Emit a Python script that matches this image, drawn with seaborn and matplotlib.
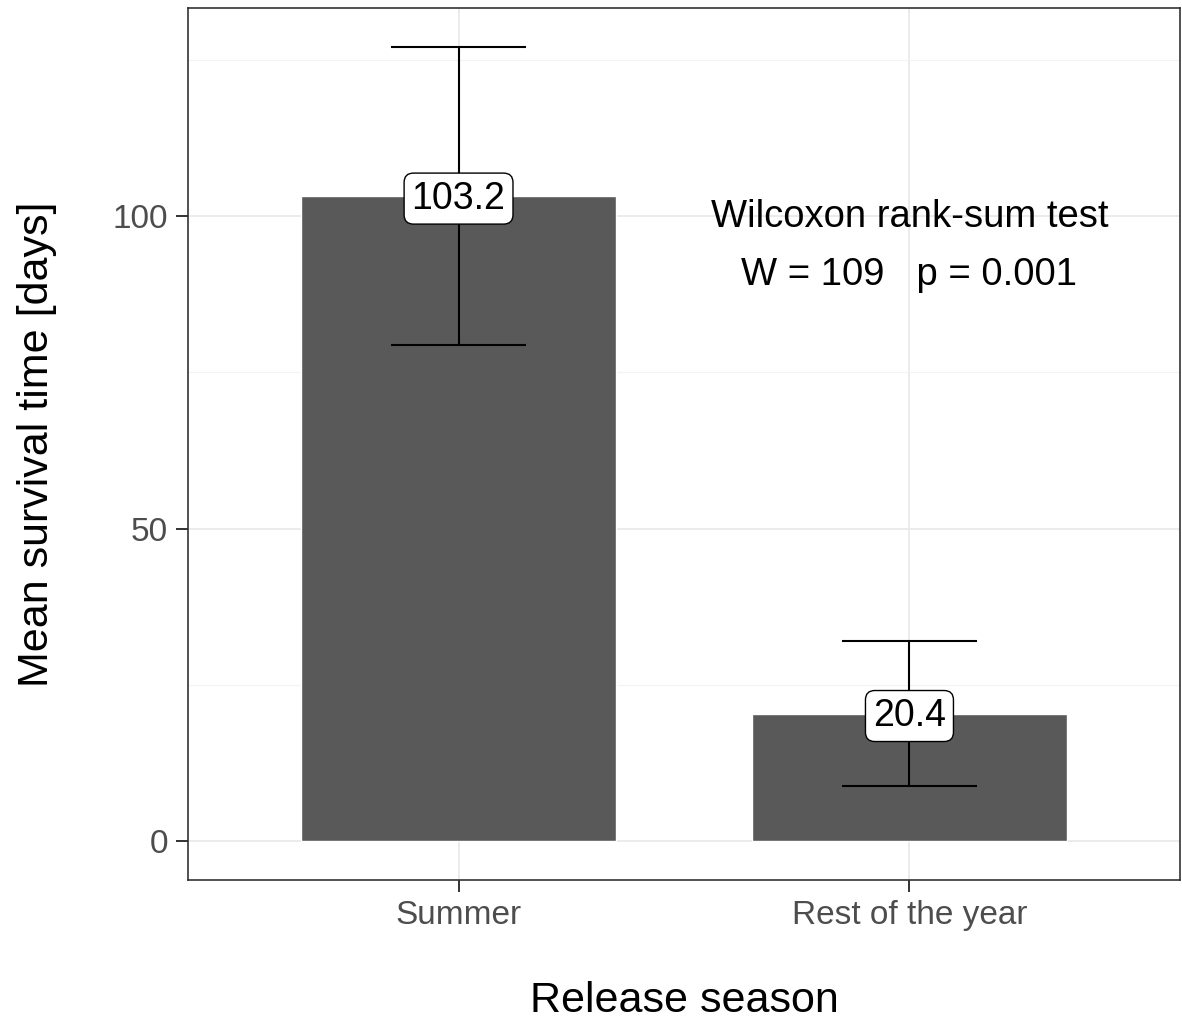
import matplotlib
matplotlib.use("Agg")
import matplotlib.pyplot as plt
import seaborn as sns
import pandas as pd
from matplotlib.ticker import MultipleLocator

# Survival data by release season
seasons = ["Summer", "Rest of the year"]
mean_days = [103.2, 20.4]
lower_ci = [79.4, 8.8]
upper_ci = [127.0, 32.0]
test_title = "Wilcoxon rank-sum test"
test_stats = "W = 109   p = 0.001"

df = pd.DataFrame({"season": seasons, "days": mean_days})

sns.set_theme(style="white")
plt.rcParams["font.family"] = ["Liberation Sans", "DejaVu Sans"]

fig = plt.figure(figsize=(11.82, 10.27), dpi=100)
ax = fig.add_axes([188 / 1182, 1 - 880 / 1027, (1180 - 188) / 1182, (880 - 8) / 1027])

sns.barplot(data=df, x="season", y="days", color="#595959", saturation=1,
            width=0.7, errorbar=None, ax=ax, zorder=2)

# error bars
pos = list(range(len(seasons)))
yerr = [[m - lo for m, lo in zip(mean_days, lower_ci)],
        [hi - m for m, hi in zip(mean_days, upper_ci)]]
ax.errorbar(pos, mean_days, yerr=yerr, fmt="none", ecolor="black",
            elinewidth=1.5, capsize=0, zorder=3)
for p, lo, hi in zip(pos, lower_ci, upper_ci):
    ax.hlines([lo, hi], p - 0.15, p + 0.15, color="black", lw=1.5, zorder=3)

# value labels
for p, m in zip(pos, mean_days):
    ax.text(p, m - 0.4, f"{m:.1f}", ha="center", va="center", fontsize=27,
            color="black", zorder=4,
            bbox=dict(boxstyle="round,pad=0.2,rounding_size=0.25",
                      fc="white", ec="black", lw=1.0))

# test annotation
ax.text(1, 99.9, test_title, ha="center", va="center", fontsize=27.5, color="black")
ax.text(1, 90.5, test_stats, ha="center", va="center", fontsize=27.5, color="black")

ax.set_xlim(-0.6, 1.6)
ax.set_ylim(-6.24, 133.3)
ax.yaxis.set_major_locator(MultipleLocator(50))
ax.yaxis.set_minor_locator(MultipleLocator(25))

ax.grid(True, which="major", color="#EBEBEB", lw=1.4, zorder=0)
ax.grid(True, which="minor", axis="y", color="#F3F3F3", lw=0.8, zorder=0)
ax.set_axisbelow(True)
for s in ax.spines.values():
    s.set_color("#333333")
    s.set_linewidth(1.2)

ax.tick_params(axis="both", which="major", length=8.5, width=1.4, color="#333333",
               labelsize=24, labelcolor="#4D4D4D", pad=6, bottom=True, left=True)
ax.tick_params(axis="both", which="minor", length=0)

ax.set_xlabel("Release season", fontsize=31, color="black", labelpad=36)
ax.set_ylabel("Mean survival time [days]", fontsize=31, color="black", labelpad=40)

fig.savefig("out.png", dpi=100)
